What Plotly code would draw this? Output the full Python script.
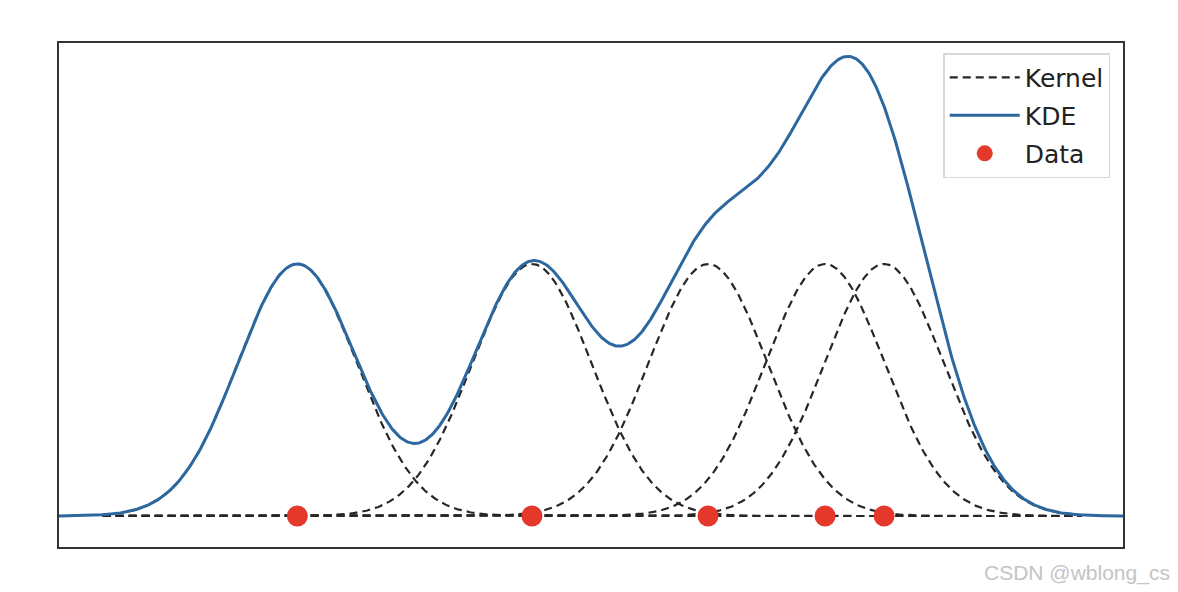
import numpy as np
import plotly.graph_objects as go

# Data values (x positions of observations)
data_x = [2.24, 4.445, 6.10, 7.20, 7.755]
bandwidth = 0.56
kernel_grid_range = [0.41, 9.61]
kde_grid_range = [0.0, 10.0]
series_names = ["Kernel", "KDE", "Data"]

xk = np.linspace(kernel_grid_range[0], kernel_grid_range[1], 800)
xd = np.linspace(kde_grid_range[0], kde_grid_range[1], 900)

def kernel(x, c):
    return np.exp(-0.5 * ((x - c) / bandwidth) ** 2)

fig = go.Figure()

for i, c in enumerate(data_x):
    fig.add_trace(go.Scatter(
        x=xk, y=kernel(xk, c), mode="lines",
        line=dict(color="#262626", width=2.2, dash="8px,5px"),
        name=series_names[0], legendgroup="k", showlegend=(i == 0),
        hoverinfo="skip"))

kde = sum(kernel(xd, c) for c in data_x)
fig.add_trace(go.Scatter(
    x=xd, y=kde, mode="lines",
    line=dict(color="#2c67a0", width=3),
    name=series_names[1], legendgroup="kde"))

fig.add_trace(go.Scatter(
    x=data_x, y=[0] * len(data_x), mode="markers",
    marker=dict(color="#e4392a", size=21, line=dict(width=0)),
    name=series_names[2], legendgroup="data"))

fig.update_layout(
    width=1170, height=584,
    margin=dict(l=51, r=55, t=35, b=45),
    paper_bgcolor="white", plot_bgcolor="white",
    font=dict(family="DejaVu Sans", size=25, color="#222"),
    legend=dict(
        x=0.988, y=0.980, xanchor="right", yanchor="top",
        bgcolor="rgba(255,255,255,0.9)", bordercolor="#d8d8d8", borderwidth=1.5,
        font=dict(size=25, family="DejaVu Sans", color="#222"),
        itemwidth=70, tracegroupgap=2.5),
    showlegend=True,
)
fig.add_annotation(
    text="CSDN @wblong_cs", x=1.046, y=-0.052, xref="paper", yref="paper",
    xanchor="right", yanchor="middle", showarrow=False,
    font=dict(family="Liberation Sans", size=21, color="#c4c4c4"))

fig.update_xaxes(range=kde_grid_range, showgrid=False, zeroline=False,
                 showticklabels=False, ticks="", showline=True, mirror=True,
                 linecolor="#333", linewidth=1.6)
fig.update_yaxes(range=[-0.123, 1.877], showgrid=False, zeroline=False,
                 showticklabels=False, ticks="", showline=True, mirror=True,
                 linecolor="#333", linewidth=1.6)

fig.write_html("out.html")
